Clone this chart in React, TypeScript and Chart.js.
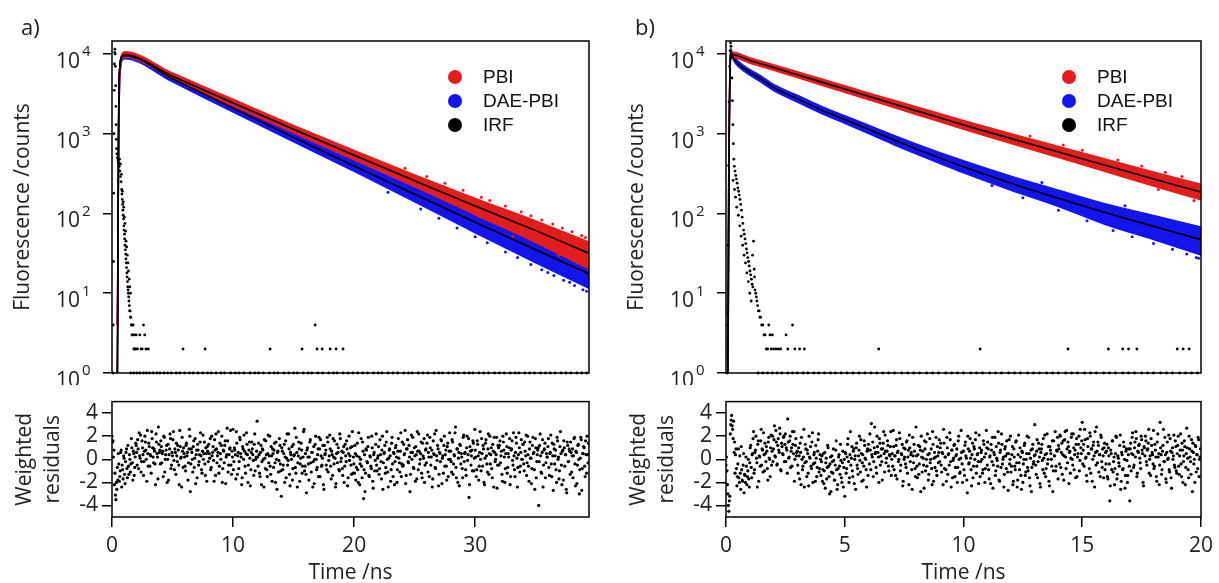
import React, { useEffect, useRef } from 'react';
import { Chart, registerables } from 'chart.js';

Chart.register(...registerables);

// ------------------------- data -------------------------
const decadeTicks = [1, 10, 100, 1000, 10000];
const decadeExponents = ['0', '1', '2', '3', '4'];
const residTicks = [-4, -2, 0, 2, 4];
const legendLabels = ['PBI', 'DAE-PBI', 'IRF'];
const panelLabels = ['a)', 'b)'];

// panel a
const xMaxA = 39.4;
const xTicksA = [0, 10, 20, 30];
const bandTimesA = [0.42, 0.48, 0.54, 0.6, 0.75, 0.9, 1.05, 5, 10, 15, 20, 25, 30, 35, 39.4];
const pbiUpperA = [4, 40, 1400, 5500, 9400, 10400, 10700, 5800, 2720, 1280, 618, 305, 155, 81, 44];
const pbiLowerA = [1, 6, 250, 2200, 7700, 8900, 9120, 4870, 2230, 1020, 470, 216, 96, 43, 20];
const daeUpperA = [4, 40, 1400, 5400, 9100, 10000, 10230, 5270, 2290, 1010, 459, 212, 100, 48.5, 25.5];
const daeLowerA = [1, 6, 250, 2100, 7300, 8500, 8700, 4450, 1860, 790, 336, 140, 57, 24, 11.5];
const fitTimesA = [0.45, 0.48, 0.51, 0.54, 0.58, 0.65, 0.75, 0.9, 1.05, 5, 10, 15, 20, 25, 30, 35, 39.4];
const pbiFitA = [1, 10, 120, 1200, 4000, 7000, 8900, 9600, 9770, 5250, 2430, 1135, 537, 257, 124, 61, 31.6];
const daeFitA = [1, 10, 120, 1200, 4000, 7000, 8800, 9400, 9550, 4900, 2090, 900, 394, 174, 77.6, 35.1, 17.6];
const pbiSpeckA: [number, number][] = [
  [24.2, 370], [26, 290], [27.5, 240], [29, 195], [30.5, 160], [31.2, 146], [32.5, 124], [33.8, 105],
  [34.6, 94], [35.5, 83], [36.4, 74], [37.2, 66], [38.0, 59], [38.8, 53], [39.1, 50], [36.9, 30], [33.1, 52],
];
const daeSpeckA: [number, number][] = [
  [22.8, 184], [25.5, 114], [27, 87], [28.5, 66], [30, 51], [31, 43], [32.5, 33], [33.5, 28], [34.6, 23],
  [35.5, 19.7], [36.5, 16.7], [37.3, 14.6], [38.2, 12.5], [38.9, 11.1], [39.2, 10.6], [37.8, 13.7], [36.0, 18.2],
];
const irfA: [number, number][] = [
  [0.08, 1], [0.1, 4], [0.12, 25], [0.14, 180], [0.16, 1000], [0.18, 3500], [0.2, 7500], [0.22, 10500],
  [0.24, 11500], [0.26, 10000], [0.28, 7000], [0.3, 4000], [0.32, 2200], [0.34, 1300], [0.36, 850],
  [0.38, 650], [0.4, 560], [0.45, 500], [0.5, 470], [0.55, 430], [0.6, 390], [0.65, 340], [0.7, 290],
  [0.75, 250], [0.8, 200], [0.82, 175], [0.85, 150], [0.88, 130], [0.9, 110], [0.92, 95], [0.95, 85],
  [0.98, 70], [1.0, 62], [1.03, 55], [1.05, 48], [1.08, 40], [1.1, 35], [1.13, 31], [1.15, 27],
  [1.18, 24], [1.2, 21], [1.23, 18], [1.25, 16], [1.28, 14], [1.3, 12], [1.33, 11], [1.35, 10],
  [1.38, 9], [1.4, 8], [1.43, 7], [1.45, 6], [1.5, 6], [1.52, 5], [1.55, 5], [1.6, 4], [1.62, 4],
  [1.65, 3], [1.7, 3], [1.75, 4], [1.8, 2], [1.85, 3], [1.9, 2], [1.95, 2], [2.0, 3], [2.1, 2],
  [2.3, 3], [2.4, 2], [2.5, 2], [2.6, 4], [2.7, 3], [2.8, 2], [3.0, 2], [5.87, 2], [7.69, 2],
  [13.06, 2], [15.7, 2], [16.78, 4], [16.94, 2], [17.36, 2], [18.02, 2], [18.51, 2], [19.09, 2],
  [0.62, 480], [0.7, 420], [0.78, 310], [0.86, 190], [0.93, 140], [0.97, 120], [1.02, 90], [1.07, 75],
  [1.12, 60], [1.16, 45], [1.21, 38], [1.26, 30], [1.31, 24], [1.36, 19], [1.42, 15], [1.47, 12], [1.53, 10],
];
const irfOnesA = [1.55, 1.8, 2.05, 2.3, 2.6, 2.85, 3.1, 3.4, 3.7, 3.95, 4.3, 4.6, 4.9, 5.3, 5.6, 6.0, 6.4, 6.7,
  7.1, 7.5, 7.9, 8.2, 8.6, 9.0, 9.3, 9.8, 10.2, 10.5, 10.9, 11.4, 11.8, 12.1, 12.5, 13.0, 13.4, 13.7, 14.2,
  14.6, 15.0, 15.3, 15.8, 16.2, 16.5, 17.0, 17.4, 17.9, 18.3, 18.6, 19.1, 19.5, 19.9, 20.3, 20.7, 21.1,
  21.6, 22.0, 22.3, 22.8, 23.2, 23.6, 24.1, 24.5, 24.8, 25.3, 25.7, 26.1, 26.6, 27.0, 27.3, 27.8, 28.2,
  28.6, 29.1, 29.5, 29.8, 30.3, 30.7, 31.1, 31.6, 32.0, 32.4, 32.9, 33.3, 33.6, 34.1, 34.5, 34.9, 35.4,
  35.8, 36.2, 36.6, 37.1, 37.5, 37.9, 38.4, 38.8, 39.2];
// weighted residuals, even channels
const residA = [
  2.0, 1.6, 0.8, -1.2, -3.5, -2.6, -1.8, -0.4, -1.5, 0.6, -2.4, -0.9, 0.3, -1.3, -0.2, 0.9, -1.6, -0.6, 0.4, -1.1, 1.8, -0.3, 0.7, -1.4, 0.2,
  1.2, -0.5, 0.9, 2.3, 0.1, -1.1, 1.6, 0.4, -0.2, 2.0, 0.8, -1.9, 0.5, 1.4, -0.6, 0.3, 2.4, 1.0, -0.3, 0.7, -2.2, 1.5, 0.2, 2.8, 0.6,
  -0.4, 1.1, 0.5, -1.5, 1.9, 0.0, 0.8, -2.0, 1.3, 0.4, 2.2, -0.8, 0.6, 1.7, -0.1, 0.9, -1.3, 0.3, 1.2, -0.5, 2.5, 0.1, -2.4, 0.7, 1.0,
  0.2, -1.0, 1.4, 0.6, -0.3, 2.6, -2.8, 0.9, 0.0, 1.1, -0.7, 1.8, 0.4, -1.6, 0.8, -0.2, 1.5, 0.3, -1.2, 2.1, 0.5, -0.4, 1.0, -1.9, 0.7,
  1.3, 0.1, -0.9, 2.0, 0.6, -0.1, 1.7, -1.4, 0.9, 0.3, 2.4, -0.6, 0.5, 1.2, -2.0, 0.8, -0.3, 1.6, 0.2, 2.7, -1.1, 0.4, 1.0, -0.5, 0.7,
  2.6, -0.2, 0.8, -1.7, 1.4, 0.3, -0.8, 1.9, 0.5, -2.2, 1.1, 0.0, 0.7, -1.2, 2.3, 0.4, -0.5, 1.5, -2.3, 0.6, 0.9, -0.1, 1.3, -1.0, 0.2,
  3.3, -0.6, 0.4, -1.5, 1.2, -0.2, 0.8, -2.4, 0.1, 1.6, -0.9, 0.5, -0.3, 2.0, -1.3, 0.3, 0.9, -0.7, 1.4, -2.0, 0.0, 0.6, -1.1, 1.8, -0.4,
  -3.2, 0.7, -0.5, 1.3, 0.2, -1.6, 2.2, -0.1, 0.9, -2.3, 0.4, 1.1, -0.8, 0.3, 2.7, -1.2, 0.6, -0.3, 1.5, -1.9, 0.1, 0.8, -0.6, 2.4, -1.0,
  0.5, -2.9, 1.0, -0.4, 0.2, 1.7, -1.1, 0.6, -0.2, -2.1, 1.3, 0.0, -0.7, 0.9, 1.9, -1.5, 0.3, -0.5, 1.2, -2.6, 0.4, 0.8, -0.9, 1.5, -0.1,
  2.1, -0.6, 0.7, -1.4, 0.2, 1.6, -2.4, 0.5, -0.3, 1.0, -1.0, 1.8, 0.1, -0.8, 0.6, -2.0, 1.3, -0.2, 0.9, -1.6, 2.0, 0.3, -0.5, 1.1, -1.2,
  -0.4, 1.2, -1.8, 0.3, -0.9, 2.3, -2.2, 0.0, -0.6, 1.5, -3.4, 0.4, -1.2, 0.8, -0.3, 1.9, -1.5, 0.2, -0.8, 1.0, -2.5, 0.6, -0.1, 2.2, -1.0,
  0.3, -1.3, 1.7, -0.2, 0.8, -2.6, 0.5, 1.2, -0.7, 2.4, -1.1, 0.1, 0.9, -1.9, 1.4, -0.4, 0.6, -2.2, 1.0, 0.2, -0.9, 1.8, -0.3, 0.7, -1.5,
  1.5, -0.5, 0.4, 2.5, -1.4, 0.9, -0.2, 1.2, -2.8, 0.6, 0.0, 1.9, -0.8, 0.3, 1.1, -1.7, 0.7, 2.2, -0.4, 0.5, -1.2, 1.4, 0.1, -2.0, 0.8,
  -0.3, 2.1, 0.6, -1.5, 1.0, 0.2, -2.4, 1.6, 0.4, -0.7, 2.5, -0.1, 0.9, -1.3, 0.5, 1.7, -2.1, 0.3, 1.2, -0.6, 0.8, -1.8, 1.4, 0.0, 2.3,
  0.7, -1.1, 1.5, -0.4, 0.3, 2.8, -1.6, 0.9, 0.1, -2.3, 1.2, 0.5, -0.8, 1.9, -0.2, 0.6, -1.4, 2.0, 0.4, -3.3, 1.1, -0.5, 0.8, 1.6, -1.0,
  2.6, 0.2, -0.9, 1.3, -1.8, 0.6, 0.0, 1.8, -0.6, 0.9, -2.2, 1.4, 0.3, -1.1, 2.2, 0.5, -0.4, 1.0, -1.6, 0.7, 1.9, -0.2, 0.4, -2.5, 1.2,
  -0.5, 1.6, 0.3, -1.3, 2.0, 0.8, -2.0, 0.5, 1.1, -0.7, 0.2, 1.8, -1.5, 0.9, -0.1, 2.3, -0.9, 0.6, 1.4, -2.4, 0.4, 1.0, -0.6, 1.7, 0.0,
  1.3, -1.0, 0.7, 2.1, -0.3, 0.4, -1.9, 1.5, 0.1, -0.8, 1.9, 0.6, -2.6, 1.0, -0.2, 0.8, -4.0, 1.2, 0.3, -1.2, 1.7, -0.5, 0.9, -1.6, 0.5,
  0.2, 1.8, -1.4, 0.6, -0.4, 1.4, -2.7, 0.9, 0.3, -0.9, 1.9, 0.0, -1.7, 1.1, 0.5, -2.2, 0.8, 1.6, -0.6, 0.4, -2.9, 1.2, -0.2, 0.7, 1.5,
  -1.1, 0.9, 0.3, 1.9, -2.3, 0.6, -0.5, 1.3, -3.0, 0.1, 1.7, -0.8, 0.5, 1.0, -1.5, 0.4, 2.0, -0.3,
];
// weighted residuals, odd channels
const residA2 = [
  1.5, 0.2, -2.2, -3.1, -2.0, -0.7, 0.5, -1.9, -1.0, 0.8, -0.5, -1.7, 0.1, -2.1, 0.6, -0.8, 1.2, -1.3, 0.0, -0.4, 1.0, -1.8, 0.5, -0.7, 1.4,
  0.6, 1.7, -0.8, 0.3, 2.1, -0.2, 1.0, -1.4, 0.7, 1.5, 0.0, 2.5, -0.6, 1.1, 0.4, -1.2, 1.8, 0.2, 0.9, -0.4, 2.2, 0.5, -1.7, 1.3, 0.8,
  1.6, -0.3, 0.7, 2.0, -1.1, 0.4, 1.2, 0.0, -1.8, 0.9, 1.8, -0.5, 0.3, 2.4, -0.9, 0.6, 1.4, -0.2, 0.8, -2.2, 1.1, 0.2, 1.9, -0.7, 0.5,
  -0.6, 1.2, 0.3, -1.8, 0.9, 2.0, -0.4, 0.6, -1.1, 1.6, 0.1, -2.1, 0.8, 1.3, -0.5, 0.4, 2.3, -0.9, 0.7, 0.0, 1.5, -1.4, 0.5, 1.1, -0.2,
  0.5, 1.8, -0.7, 0.3, 1.1, -1.9, 0.8, 2.2, -0.3, 0.6, -1.2, 1.4, 0.0, 2.0, -0.8, 0.7, 1.2, -2.1, 0.4, 1.6, -0.5, 0.9, 2.5, -1.3, 0.2,
  -0.9, 1.0, 0.4, 2.4, -1.3, 0.6, -0.2, 1.7, 0.2, -1.6, 0.9, 2.1, -0.6, 0.5, 1.3, -2.0, 0.8, 0.1, -0.9, 1.5, 0.4, -1.4, 2.2, 0.0, 0.7,
  0.2, 1.4, -1.2, 0.6, -2.2, 0.9, 0.0, 1.7, -0.8, 0.4, -1.5, 2.1, 0.3, -0.6, 1.1, -1.9, 0.5, 0.8, -0.3, 1.5, -2.6, 0.7, -0.1, 1.2, -1.0,
  1.0, -0.9, 0.5, -2.0, 1.6, 0.1, -0.5, 2.2, -1.3, 0.6, 0.0, -1.8, 1.3, 0.4, -0.7, 1.9, -2.4, 0.3, 0.9, -0.4, 1.4, -1.2, 0.2, 2.6, -0.6,
  -1.3, 0.8, 0.2, -1.8, 1.5, -0.3, 0.6, -2.4, 1.1, 0.0, 2.0, -0.9, 0.4, -1.5, 0.9, 1.7, -0.6, 0.1, -2.2, 1.2, 0.5, -0.5, 1.9, -1.1, 0.3,
  0.9, -1.7, 0.4, 1.8, -0.4, 0.1, -2.1, 1.3, 0.6, -0.9, 2.2, -0.2, 0.7, -1.4, 1.1, -0.6, 0.3, 1.6, -2.3, 0.5, -0.1, 1.0, -1.3, 2.4, 0.2,
  -1.2, 0.5, -0.7, 1.4, -2.0, 0.2, -0.4, 1.8, -1.6, 0.7, -0.9, -2.8, 0.9, -0.2, 1.1, -1.4, 0.3, -0.6, 2.0, -1.9, 0.4, -1.0, 1.3, -0.5, 0.1,
  1.1, -0.8, 0.4, -1.7, 2.0, -0.3, 0.6, -1.2, 1.5, 0.0, -2.4, 0.8, 0.3, -0.9, 1.9, -1.5, 0.5, -0.2, 1.2, -2.0, 0.7, 0.1, -1.1, 2.3, -0.4,
  -0.6, 1.3, 0.5, -2.1, 0.9, 1.7, -0.3, 0.2, -1.3, 2.1, 0.6, -0.7, 1.0, -1.9, 0.4, 2.4, -0.9, 0.7, 0.0, 1.5, -1.6, 0.3, 1.8, -0.5, 0.9,
  1.4, -1.1, 0.2, 1.9, -0.5, 0.8, -1.7, 0.5, 2.2, -0.8, 0.3, 1.2, -2.3, 0.6, -0.2, 1.6, 0.1, -1.2, 2.0, 0.4, -0.6, 1.1, -1.5, 0.7, 0.0,
  -0.2, 1.7, -1.3, 0.4, 2.3, -0.7, 0.9, -2.0, 0.6, 1.3, -0.4, 0.2, -1.6, 2.1, 0.5, -0.9, 1.0, -0.1, 1.8, -2.2, 0.7, 0.3, -1.0, 1.4, 0.1,
  0.8, -1.5, 1.6, 0.3, -0.6, 2.4, -1.0, 0.5, 1.2, -2.0, 0.1, 1.7, -0.4, 0.9, -1.3, 2.0, 0.4, -0.8, 1.3, -2.4, 0.6, 0.0, 1.9, -0.5, 1.0,
  1.2, -0.3, 0.7, -1.9, 1.5, 0.2, -0.8, 2.2, -1.2, 0.5, 1.0, -2.2, 0.8, 1.6, -0.5, 0.3, -1.5, 1.9, 0.1, -0.7, 2.3, -1.1, 0.6, 0.0, 1.3,
  -0.4, 1.5, 0.3, -1.4, 2.0, -0.6, 0.9, 0.1, -2.1, 1.2, 0.5, -0.9, 1.8, -1.6, 0.4, 1.0, -0.2, 2.2, -1.1, 0.6, -2.4, 0.8, 1.4, -0.3, 0.2,
  1.1, -0.7, 0.5, 2.1, -1.5, 0.3, 1.3, -0.4, 0.8, -2.0, 1.6, 0.2, -1.0, 2.4, -0.5, 0.7, -1.8, 1.0, 0.4, -2.6, 1.5, -0.2, 0.9, -1.3, 0.6,
  0.3, -1.6, 1.8, -0.4, 0.7, -2.1, 1.2, 0.0, -0.9, 1.9, -2.7, 0.5, 1.1, -0.6, 1.6, -1.2, 0.4, 1.4,
];

// panel b
const xMaxB = 20;
const xTicksB = [0, 5, 10, 15, 20];
const bandTimesB = [0.05, 0.1, 0.15, 0.2, 0.25, 0.35, 0.5, 1, 1.5, 2, 3, 4, 5, 6, 7, 8, 10, 12, 14, 16, 18, 20];
const pbiUpperB = [5, 150, 3800, 9800, 10600, 10500, 10300, 9000, 8150, 7360, 6020, 4910, 4010, 3270, 2680, 2190, 1470, 1005, 695, 481, 332, 234];
const pbiLowerB = [1.5, 40, 1500, 8000, 9010, 8900, 8750, 7640, 6890, 6210, 5030, 4070, 3290, 2660, 2150, 1740, 1130, 753, 501, 333, 220, 148];
const daeUpperB = [5, 150, 3800, 11900, 10800, 9320, 8240, 6420, 5250, 4170, 3050, 2230, 1690, 1285, 977, 749, 460, 295, 197, 132, 95, 68];
const daeLowerB = [1.5, 40, 1500, 10100, 9250, 7930, 6990, 5400, 4370, 3460, 2490, 1800, 1350, 1003, 741, 557, 322, 195, 122, 72, 47, 30];
const fitTimesB = [0.08, 0.11, 0.14, 0.17, 0.2, 0.25, 0.35, 0.5, 1, 1.5, 2, 3, 4, 5, 6, 7, 8, 10, 12, 14, 16, 18, 20];
const pbiFitB = [1, 30, 1500, 7000, 9300, 9770, 9700, 9500, 8300, 7500, 6760, 5500, 4470, 3630, 2950, 2400, 1950, 1290, 870, 590, 400, 270, 186];
const daeFitB = [1, 30, 1500, 8000, 10500, 9900, 8600, 7590, 5890, 4790, 3800, 2750, 2000, 1510, 1135, 851, 646, 385, 240, 155, 102, 69, 47];
const pbiSpeckB: [number, number][] = [
  [12.8, 940], [15, 620], [16.5, 470], [17.5, 395], [18.5, 330], [19.2, 290], [19.7, 145], [18.2, 200], [14.2, 725],
];
const daeSpeckB: [number, number][] = [
  [12.5, 158], [14, 110], [15.2, 81], [16.3, 61], [17.1, 51], [18.0, 42], [18.8, 35.5], [19.4, 31], [19.8, 28],
  [13.3, 245], [16.8, 125], [11.2, 225], [19.9, 27.5],
];
const irfB: [number, number][] = [
  [0.05, 1], [0.07, 4], [0.09, 40], [0.11, 400], [0.13, 2500], [0.15, 7000], [0.17, 11000], [0.19, 13800],
  [0.21, 12500], [0.23, 9000], [0.25, 5000], [0.27, 2600], [0.29, 1300], [0.31, 750], [0.33, 480],
  [0.35, 390], [0.38, 340], [0.41, 300], [0.44, 270], [0.47, 240], [0.5, 210], [0.53, 190], [0.56, 170],
  [0.59, 150], [0.62, 130], [0.65, 110], [0.68, 90], [0.71, 75], [0.74, 62], [0.77, 55], [0.8, 48],
  [0.83, 42], [0.86, 36], [0.89, 32], [0.92, 28], [0.95, 25], [0.98, 22], [1.01, 19], [1.04, 17],
  [1.07, 15], [1.1, 13], [1.13, 12], [1.16, 45], [1.19, 20], [1.22, 11], [1.25, 10], [1.28, 9], [1.3, 8],
  [1.33, 7], [1.36, 6], [1.4, 6], [1.43, 5], [1.46, 5], [1.5, 4], [1.55, 4], [1.6, 3], [1.65, 3],
  [1.7, 2], [1.75, 2], [1.8, 4], [1.85, 3], [1.9, 2], [1.95, 3], [2.0, 2], [2.1, 2], [2.2, 2], [2.3, 2],
  [2.53, 3], [2.6, 2], [2.8, 4], [2.9, 2], [3.1, 2], [3.3, 2], [6.43, 2], [10.7, 2], [14.4, 2], [16.1, 2],
  [16.7, 2], [16.95, 2], [17.3, 2], [19.0, 2], [19.25, 2], [19.5, 2],
  [0.3, 260], [0.36, 200], [0.4, 160], [0.45, 120], [0.52, 95], [0.58, 70], [0.64, 52], [0.7, 40],
  [0.76, 30], [0.82, 24], [0.88, 18], [0.94, 14], [1.0, 10], [1.06, 8], [1.12, 30], [1.2, 16],
];
const irfOnesB = [1.35, 1.55, 1.75, 1.95, 2.15, 2.35, 2.6, 2.8, 3.0, 3.25, 3.45, 3.7, 3.9, 4.15, 4.4, 4.6, 4.85,
  5.1, 5.35, 5.6, 5.85, 6.1, 6.35, 6.6, 6.85, 7.1, 7.4, 7.65, 7.9, 8.15, 8.45, 8.7, 8.95, 9.25, 9.5, 9.75,
  10.0, 10.3, 10.55, 10.8, 11.1, 11.35, 11.6, 11.9, 12.15, 12.4, 12.7, 12.95, 13.2, 13.5, 13.75, 14.0, 14.3,
  14.55, 14.8, 15.1, 15.35, 15.6, 15.9, 16.15, 16.4, 16.7, 16.95, 17.2, 17.5, 17.75, 18.0, 18.3, 18.55,
  18.8, 19.1, 19.35, 19.6, 19.85];
const residB = [
  -0.5, -1.0, -3.0, -4.5, -3.2, 3.0, 3.8, 2.6, 3.3, 1.5, 0.4, -0.8, -1.5, 0.9, -2.0, -1.2, 1.1, -1.8, -0.5, -2.9, -1.4, 0.2, -2.2, -1.0, -1.7,
  -0.3, 1.2, -1.6, 0.5, 2.4, -0.9, 0.8, 0.1, -2.4, 1.6, 0.3, -0.6, 2.6, 0.9, -1.1, 0.4, 1.4, -0.2, 0.7, -1.8, 1.9, 0.0, 1.0, -0.5, 2.0,
  0.9, 2.9, 0.2, 1.5, -0.4, 1.8, 0.6, 2.2, -1.0, 1.1, 0.4, 2.0, 1.3, -0.2, 0.8, 3.5, 0.1, 1.6, -0.7, 1.0, 2.4, 0.5, -1.9, 1.2, 0.3,
  0.7, -1.2, 0.3, 1.4, -2.2, 0.0, -0.6, 2.6, -0.3, 0.9, -1.5, 0.5, -2.3, 0.2, 1.1, -0.8, 2.3, -0.4, 0.6, -1.9, 0.1, -0.7, 1.7, -1.1, 0.4,
  -1.4, 0.3, -0.9, -2.1, 0.6, -0.3, -1.7, 1.2, -0.6, -3.0, 0.2, -1.1, -0.2, 0.9, -1.8, -0.5, 1.6, -2.6, -0.8, 0.4, -1.3, -0.1, -2.0, 0.7, -0.7,
  -3.2, 0.5, -0.8, 1.3, -0.2, -1.6, 2.4, 0.1, -1.0, 0.7, -2.1, 0.3, 1.0, -0.5, -1.3, 0.8, -0.1, 1.7, -1.9, 0.4, -0.6, 1.2, 0.0, -2.4, 0.9,
  1.3, -0.4, 0.8, 3.1, 0.2, -1.5, 1.0, 0.5, -0.7, 2.0, 0.6, -2.0, 1.4, 0.3, -0.2, 0.9, 2.4, -1.1, 0.7, 0.1, 1.6, -0.6, 0.4, 1.1, -1.4,
  0.5, 2.5, -0.9, 0.3, 1.2, -1.7, 0.7, 0.0, 1.8, -0.5, 0.4, -2.3, 1.0, 0.2, -0.4, 1.5, -1.2, 0.8, 2.1, -0.2, 0.6, -2.6, 0.3, 1.3, -0.8,
  2.8, -0.6, 0.4, -1.3, 1.1, -2.8, 0.2, 0.7, -0.5, 1.6, -1.0, 0.0, 2.2, -1.8, 0.5, -0.3, 0.9, -2.2, 1.3, 0.1, -0.7, 1.9, -1.4, 0.3, 0.6,
  -0.2, 1.4, -1.1, 0.5, 2.6, -0.8, 0.2, -1.9, 1.0, 0.4, -0.5, 1.7, -2.4, 0.8, -0.1, 1.2, -1.5, 0.3, 0.9, -0.7, 2.0, -1.2, 0.1, 0.6, -2.0,
  0.7, -1.4, 1.5, 0.1, -2.9, 0.9, -0.3, 1.8, -0.9, 0.4, -1.6, 1.1, 0.0, 2.3, -0.6, 0.5, -2.1, 1.0, -0.2, 0.8, -1.2, 1.6, 0.2, -0.8, 2.5,
  -0.5, 0.9, -1.7, 0.3, 1.3, -0.2, -2.5, 0.6, 1.9, -1.0, 0.1, -0.6, 1.4, -1.9, 0.8, 2.2, -0.4, 0.2, -1.3, 1.1, -0.8, 0.5, -2.7, 1.7, 0.0,
  -1.1, 0.4, -2.2, 0.9, -0.6, 1.5, -0.3, -1.8, 2.1, -0.9, 0.2, -2.6, 0.6, -0.4, 1.2, -1.4, 0.0, 2.0, -1.0, 0.5, -2.3, 0.8, -0.7, 1.3, -0.2,
  3.0, -0.5, 0.7, -1.6, 1.4, 0.2, -2.4, 0.9, -0.1, 1.8, -1.2, 0.4, -0.8, 2.2, 0.0, -1.9, 1.1, 0.5, -0.6, -2.8, 1.6, 0.3, -1.0, 0.8, 1.9,
  1.2, -0.4, 2.0, 0.6, -1.3, 1.6, 0.3, 2.4, -0.8, 0.9, 1.5, -2.1, 0.7, 0.1, 2.2, -0.5, 1.0, 0.4, -1.6, 1.8, 0.2, 1.3, -1.0, 2.6, 0.5,
  3.2, 0.8, -0.6, 1.7, 0.2, -1.9, 1.1, 0.5, 2.3, -1.2, 0.9, 0.0, 1.5, -2.4, 0.6, 2.8, -0.3, 1.2, 0.4, -1.5, 1.9, -0.7, 0.3, 1.0, -0.9,
  -0.4, 1.3, -1.7, 0.3, -3.6, 0.8, -0.9, 1.6, -0.2, -2.2, 0.5, 1.9, -1.3, 0.1, -0.6, 2.1, -1.9, 0.4, -0.8, 1.1, -2.5, 0.7, -0.1, -1.4, 0.9,
  -3.6, 1.4, 0.5, 2.3, -0.7, 1.0, 0.2, 1.8, -1.2, 0.6, 1.3, -0.3, 2.0, 0.8, -2.0, 1.1, 0.3, 1.6, -0.5, 0.9, 2.6, 0.0, -1.4, 1.2, 0.4,
  2.5, -0.6, 0.8, -1.5, 1.5, 0.2, -2.2, 3.2, 0.4, -0.9, 1.2, -0.2, 1.9, -1.7, 0.6, 0.0, 2.1, -1.1, 0.7, -2.5, 1.0, 0.3, -0.5, 1.6, -1.0,
  0.5, 2.0, -1.3, 0.8, -0.4, 1.4, -2.0, 0.3, 1.1, -0.7, 2.7, 0.1, -1.6, 0.9, -0.2, 1.7, -2.8, 0.6, 0.0, 1.2, -1.1, 0.4, 1.9, -1.5, 0.2,
];
const residB2 = [
  0.2, -2.2, -4.0, -3.6, 2.2, 3.4, 2.9, 1.8, 0.6, -1.2, 0.9, -2.3, -0.4, -1.6, 0.3, -2.6, -0.9, -1.9, 0.5, -1.3, -2.0, -0.6, -1.5, 0.0, -2.4,
  1.0, -0.7, 0.4, 1.8, -1.2, 0.6, 2.0, -0.3, 1.3, -1.9, 0.2, 1.6, -0.5, 0.8, 2.3, -1.0, 0.5, 1.1, -0.8, 1.5, 0.1, -1.5, 2.1, 0.7, -0.2,
  1.7, 0.3, 2.5, -0.5, 1.2, 0.8, 2.7, -0.9, 1.4, 0.5, 1.9, -0.2, 2.2, 1.0, -1.2, 1.5, 0.2, 2.0, 0.7, -0.6, 1.3, 2.4, 0.0, 1.8, 0.6,
  -0.5, 1.0, -1.7, 0.6, 1.9, -0.9, 0.2, -2.4, 1.3, -0.2, 0.8, -1.2, 2.0, 0.1, -0.6, 1.5, -2.0, 0.4, -0.3, 1.2, -1.5, 0.7, 2.2, -0.8, 0.0,
  -0.2, -1.9, 0.5, -1.0, -2.5, 0.1, -0.7, 1.0, -1.5, -0.4, -2.8, 0.3, -1.2, -0.1, -1.8, 0.8, -0.9, -2.2, 0.2, -0.6, 1.3, -1.6, -0.3, -2.4, 0.0,
  0.6, -1.2, 0.2, 1.8, -2.0, 0.4, -0.5, 1.1, -1.5, 0.9, 0.0, -2.6, 1.4, -0.8, 0.3, 2.0, -1.1, 0.5, -0.3, -1.8, 1.6, 0.1, -0.9, 0.7, -1.4,
  0.8, 2.2, -0.9, 0.4, 1.5, -0.2, 2.8, 0.6, -1.2, 1.1, 0.2, 1.8, -0.5, 0.9, -1.8, 1.4, 0.5, 2.1, -0.3, 0.7, 1.2, -1.0, 0.3, 2.4, 0.0,
  -0.6, 1.1, 0.3, -1.4, 1.7, 0.6, -0.2, 2.3, -1.0, 0.5, 1.3, -1.9, 0.0, 0.9, -0.7, 1.6, 0.2, -2.2, 1.0, 0.4, -0.9, 1.9, -0.3, 0.7, -1.5,
  0.3, -1.6, 1.2, -0.4, 0.8, 2.0, -1.1, 0.1, -2.5, 0.9, 1.5, -0.6, 0.4, -1.3, 1.8, 0.0, -0.8, 2.4, -1.9, 0.6, 0.2, -1.0, 1.1, -0.3, 1.7,
  1.0, -0.5, 0.6, -2.2, 1.4, 0.2, -0.9, 1.9, -1.3, 0.5, 2.3, -0.2, 0.8, -1.6, 0.1, 1.3, -0.7, 0.4, -2.0, 1.6, 0.0, -1.1, 2.5, -0.4, 0.7,
  -0.9, 1.2, 0.3, -1.8, 2.0, -0.4, 0.7, 0.1, -2.3, 1.4, -0.6, 0.9, 1.7, -1.2, 0.4, -0.2, 2.1, -1.5, 0.6, 0.0, -0.9, 1.3, -2.0, 0.5, 1.0,
  1.5, -0.9, 0.2, -2.1, 0.8, 1.9, -0.5, 0.4, -1.4, 1.1, -0.1, 2.4, -1.8, 0.6, -0.7, 1.3, 0.0, -2.4, 0.9, 0.3, 1.6, -1.1, 0.5, -0.4, 2.0,
  -0.6, 1.1, -1.9, 0.2, -0.9, 1.6, -2.4, 0.4, -0.3, 1.0, -1.4, 0.7, -2.0, 0.0, 1.4, -1.1, 0.5, -0.7, 1.9, -1.6, 0.1, -2.8, 0.9, -0.4, 0.3,
  0.4, -1.3, 1.7, -0.2, 0.9, -2.1, 0.6, 1.3, -0.9, 0.1, 2.1, -1.5, 0.5, -0.4, 1.1, -2.3, 0.8, 0.0, 1.6, -1.0, 0.3, 2.4, -0.6, 0.7, -1.7,
  0.9, 2.1, -0.7, 1.4, 0.4, -1.8, 1.7, 0.2, 2.5, -0.3, 1.1, 0.6, -1.2, 1.9, 0.0, 2.2, -0.9, 0.8, 1.3, -1.5, 0.5, 2.0, -0.1, 1.0, 1.6,
  -0.4, 1.3, 2.6, 0.1, -1.4, 1.8, 0.5, -0.8, 2.0, 0.9, -1.9, 1.2, 0.3, 2.4, -0.5, 0.7, 1.5, -1.1, 0.4, 2.1, -0.2, 0.9, -1.6, 1.4, 0.6,
  0.7, -1.5, 1.0, -0.4, -2.3, 0.5, 1.6, -1.1, 0.2, -0.8, 2.0, -1.7, 0.3, -0.3, 1.2, -2.6, 0.6, -0.9, 1.5, 0.0, -1.4, 0.9, -2.0, 0.4, -0.6,
  0.9, -1.0, 1.9, 0.4, -0.5, 1.5, 2.4, -1.5, 0.7, 1.2, 0.1, -0.8, 1.7, 0.5, -2.3, 1.0, 2.0, -0.2, 0.8, 1.4, -1.2, 0.3, 1.8, 0.6, -0.4,
  -0.8, 1.3, 0.2, -1.9, 2.2, 0.5, -0.5, 1.0, -1.3, 0.7, 2.6, -0.2, 0.4, -2.0, 1.5, 0.1, -0.9, 1.8, -1.6, 0.6, 0.0, 2.1, -0.7, 1.1, -1.2,
  1.2, -0.6, 0.3, 2.2, -1.5, 0.8, -0.2, 1.6, -2.2, 0.5, 1.0, -0.9, 2.0, 0.2, -1.3, 0.7, 1.4, -0.4, -2.0, 1.1, 0.4, -0.8, 1.7, 0.0, 0.9,
];

// ------------------------- styling -------------------------
const FONT = '"Open Sans", sans-serif';
const LEGEND_FONT = '"Liberation Sans", Arial, sans-serif';
const TEXT = '#222222';
const RED = '#e31c1c';
const BLUE = '#1414ee';
const legendColors = [RED, BLUE, '#000000'];

type Panel = {
  label: string;
  xMax: number;
  xTicks: number[];
  bandTimes: number[];
  pbiUpper: number[];
  pbiLower: number[];
  daeUpper: number[];
  daeLower: number[];
  fitTimes: number[];
  pbiFit: number[];
  daeFit: number[];
  pbiSpeck: [number, number][];
  daeSpeck: [number, number][];
  irf: [number, number][];
  irfOnes: number[];
  resid: number[];
  resid2: number[];
};

const panels: Panel[] = [
  {
    label: panelLabels[0], xMax: xMaxA, xTicks: xTicksA, bandTimes: bandTimesA,
    pbiUpper: pbiUpperA, pbiLower: pbiLowerA, daeUpper: daeUpperA, daeLower: daeLowerA,
    fitTimes: fitTimesA, pbiFit: pbiFitA, daeFit: daeFitA, pbiSpeck: pbiSpeckA, daeSpeck: daeSpeckA,
    irf: irfA, irfOnes: irfOnesA, resid: residA, resid2: residA2,
  },
  {
    label: panelLabels[1], xMax: xMaxB, xTicks: xTicksB, bandTimes: bandTimesB,
    pbiUpper: pbiUpperB, pbiLower: pbiLowerB, daeUpper: daeUpperB, daeLower: daeLowerB,
    fitTimes: fitTimesB, pbiFit: pbiFitB, daeFit: daeFitB, pbiSpeck: pbiSpeckB, daeSpeck: daeSpeckB,
    irf: irfB, irfOnes: irfOnesB, resid: residB, resid2: residB2,
  },
];

// layout (pixels inside each canvas)
const MAIN_H = 385;
const RES_H = 198;
const MAIN_TOP = 41;
const MAIN_BOTTOM = 373;
const RES_TOP = 13;
const RES_BOTTOM = 132;
const boxes = [
  { canvasLeft: 0, width: 610, left: 112, right: 589 },
  { canvasLeft: 610, width: 609, left: 116, right: 591 },
];

const pts = (ts: number[], vs: number[]) => ts.map((t, i) => ({ x: t, y: vs[i] }));
const pairPts = (pp: [number, number][]) => pp.map(([t, v]) => ({ x: t, y: v }));

function drawRotated(ctx: CanvasRenderingContext2D, text: string, x: number, y: number) {
  ctx.save();
  ctx.translate(x, y);
  ctx.rotate(-Math.PI / 2);
  ctx.textAlign = 'center';
  ctx.textBaseline = 'middle';
  ctx.fillText(text, 0, 0);
  ctx.restore();
}

function buildMain(canvas: HTMLCanvasElement, p: Panel, box: typeof boxes[0]) {
  const band = (c: string) => ({
    borderColor: c, backgroundColor: c, borderWidth: 1.2, pointRadius: 0,
    cubicInterpolationMode: 'monotone' as const,
  });
  const fit = { borderColor: '#000', borderWidth: 1.6, pointRadius: 0, fill: false, cubicInterpolationMode: 'monotone' as const };
  const dots = (c: string, r: number) => ({
    showLine: false, pointRadius: r, pointBackgroundColor: c, pointBorderWidth: 0, borderWidth: 0, fill: false,
  });
  const irfPoints = pairPts(p.irf).concat(p.irfOnes.map((t) => ({ x: t, y: 1 })));
  const overlay = {
    id: 'mainOverlay',
    afterDraw(chart: any) {
      const { ctx, chartArea: ca, scales } = chart;
      ctx.save();
      ctx.strokeStyle = '#000';
      ctx.lineWidth = 1.5;
      ctx.strokeRect(ca.left, ca.top, ca.right - ca.left, ca.bottom - ca.top);
      ctx.fillStyle = TEXT;
      decadeTicks.forEach((v, i) => {
        const y = scales.y.getPixelForValue(v);
        ctx.font = `21px ${FONT}`;
        ctx.textAlign = 'right';
        ctx.textBaseline = 'middle';
        ctx.fillText('10', ca.left - 32, y + 8);
        ctx.font = `15px ${FONT}`;
        ctx.textAlign = 'left';
        ctx.fillText(decadeExponents[i], ca.left - 30, y - 2);
      });
      ctx.font = `21px ${FONT}`;
      drawRotated(ctx, 'Fluorescence /counts', ca.left - 89, (ca.top + ca.bottom) / 2);
      ctx.textAlign = 'left';
      ctx.textBaseline = 'middle';
      ctx.font = `22px ${FONT}`;
      ctx.fillText(p.label, ca.left - 91, 29);
      legendLabels.forEach((lab, i) => {
        const y = ca.top + 36 + i * 24;
        ctx.beginPath();
        ctx.fillStyle = legendColors[i];
        ctx.arc(ca.left + 343, y, 7, 0, Math.PI * 2);
        ctx.fill();
        ctx.fillStyle = '#111';
        ctx.font = `19px ${LEGEND_FONT}`;
        ctx.textAlign = 'left';
        ctx.textBaseline = 'middle';
        ctx.fillText(lab, ca.left + 371, y + 1);
      });
      ctx.restore();
    },
  };
  return new Chart(canvas, {
    type: 'line',
    data: {
      datasets: [
        { ...dots('#000', 1.4), data: irfPoints, clip: false } as any,
        { ...fit, data: pts(p.fitTimes, p.pbiFit) },
        { ...fit, data: pts(p.fitTimes, p.daeFit) },
        { ...dots(RED, 1.5), data: pairPts(p.pbiSpeck) },
        { ...band(RED), data: pts(p.bandTimes, p.pbiLower), fill: '+1' },
        { ...band(RED), data: pts(p.bandTimes, p.pbiUpper), fill: false },
        { ...dots(BLUE, 1.5), data: pairPts(p.daeSpeck) },
        { ...band(BLUE), data: pts(p.bandTimes, p.daeLower), fill: '+1' },
        { ...band(BLUE), data: pts(p.bandTimes, p.daeUpper), fill: false },
      ],
    },
    options: {
      animation: false,
      responsive: false,
      events: [],
      layout: { padding: { left: 0, top: MAIN_TOP, right: box.width - box.right, bottom: MAIN_H - MAIN_BOTTOM } },
      plugins: { legend: { display: false }, tooltip: { enabled: false } },
      scales: {
        x: { type: 'linear', min: 0, max: p.xMax, display: false },
        y: {
          type: 'logarithmic', min: 1, max: 14550,
          afterBuildTicks: (s: any) => { s.ticks = decadeTicks.map((v) => ({ value: v })); },
          afterFit: (s: any) => { s.width = box.left; },
          ticks: { display: false },
          grid: { drawOnChartArea: false, tickLength: 9, color: '#000', lineWidth: 1.5 },
          border: { display: false },
        },
      },
    } as any,
    plugins: [overlay],
  });
}

function buildResid(canvas: HTMLCanvasElement, p: Panel, box: typeof boxes[0]) {
  const step = p.xMax / p.resid.length;
  const step2 = p.xMax / p.resid2.length;
  const overlay = {
    id: 'residOverlay',
    afterDraw(chart: any) {
      const { ctx, chartArea: ca } = chart;
      ctx.save();
      ctx.strokeStyle = '#000';
      ctx.lineWidth = 1.5;
      ctx.strokeRect(ca.left, ca.top, ca.right - ca.left, ca.bottom - ca.top);
      ctx.fillStyle = TEXT;
      ctx.font = `21px ${FONT}`;
      const midY = (ca.top + ca.bottom) / 2;
      drawRotated(ctx, 'Weighted', ca.left - 87, midY);
      drawRotated(ctx, 'residuals', ca.left - 59, midY);
      ctx.textAlign = 'center';
      ctx.textBaseline = 'middle';
      ctx.fillText('Time /ns', (ca.left + ca.right) / 2, 188);
      ctx.restore();
    },
  };
  const tickFont = { family: FONT, size: 21 };
  const dotStyle = { pointRadius: 1.6, pointBackgroundColor: '#000', pointBorderWidth: 0, borderWidth: 0 };
  return new Chart(canvas, {
    type: 'scatter',
    data: {
      datasets: [
        { ...dotStyle, data: p.resid.map((v, i) => ({ x: i * step, y: v })) },
        { ...dotStyle, data: p.resid2.map((v, i) => ({ x: (i + 0.5) * step2, y: v })) },
      ],
    },
    options: {
      animation: false,
      responsive: false,
      events: [],
      layout: { padding: { left: 0, top: RES_TOP, right: box.width - box.right, bottom: 0 } },
      plugins: { legend: { display: false }, tooltip: { enabled: false } },
      scales: {
        x: {
          type: 'linear', min: 0, max: p.xMax,
          afterBuildTicks: (s: any) => { s.ticks = p.xTicks.map((v) => ({ value: v })); },
          afterFit: (s: any) => { s.height = RES_H - RES_BOTTOM; },
          ticks: { font: tickFont, color: TEXT, padding: 6, maxRotation: 0, autoSkip: false },
          grid: { drawOnChartArea: false, tickLength: 10, color: '#000', lineWidth: 1.5 },
          border: { display: false },
        },
        y: {
          type: 'linear', min: -5, max: 5,
          afterBuildTicks: (s: any) => { s.ticks = residTicks.map((v) => ({ value: v })); },
          afterFit: (s: any) => { s.width = box.left; },
          ticks: { font: tickFont, color: TEXT, padding: 4 },
          grid: { drawOnChartArea: false, tickLength: 10, color: '#000', lineWidth: 1.5 },
          border: { display: false },
        },
      },
    } as any,
    plugins: [overlay],
  });
}

export default function App() {
  const mainA = useRef<HTMLCanvasElement>(null);
  const resA = useRef<HTMLCanvasElement>(null);
  const mainB = useRef<HTMLCanvasElement>(null);
  const resB = useRef<HTMLCanvasElement>(null);

  useEffect(() => {
    let charts: Chart[] = [];
    let cancelled = false;
    const make = () => {
      if (cancelled) return;
      charts = [
        buildMain(mainA.current!, panels[0], boxes[0]),
        buildResid(resA.current!, panels[0], boxes[0]),
        buildMain(mainB.current!, panels[1], boxes[1]),
        buildResid(resB.current!, panels[1], boxes[1]),
      ];
    };
    const fontsReady = (document as any).fonts
      ? Promise.all([
          (document as any).fonts.load(`21px ${FONT}`),
          (document as any).fonts.load(`19px ${LEGEND_FONT}`),
        ]).catch(() => null)
      : Promise.resolve(null);
    fontsReady.then(make);
    return () => {
      cancelled = true;
      charts.forEach((c) => c.destroy());
    };
  }, []);

  const cs = (left: number, top: number, w: number, h: number): React.CSSProperties => ({
    position: 'absolute', left, top, width: w, height: h, display: 'block',
  });

  return (
    <div style={{ position: 'absolute', left: 0, top: 0, width: 1219, height: 583, background: '#fff' }}>
      <canvas ref={mainA} width={boxes[0].width} height={MAIN_H} style={cs(boxes[0].canvasLeft, 0, boxes[0].width, MAIN_H)} />
      <canvas ref={resA} width={boxes[0].width} height={RES_H} style={cs(boxes[0].canvasLeft, MAIN_H, boxes[0].width, RES_H)} />
      <canvas ref={mainB} width={boxes[1].width} height={MAIN_H} style={cs(boxes[1].canvasLeft, 0, boxes[1].width, MAIN_H)} />
      <canvas ref={resB} width={boxes[1].width} height={RES_H} style={cs(boxes[1].canvasLeft, MAIN_H, boxes[1].width, RES_H)} />
    </div>
  );
}
